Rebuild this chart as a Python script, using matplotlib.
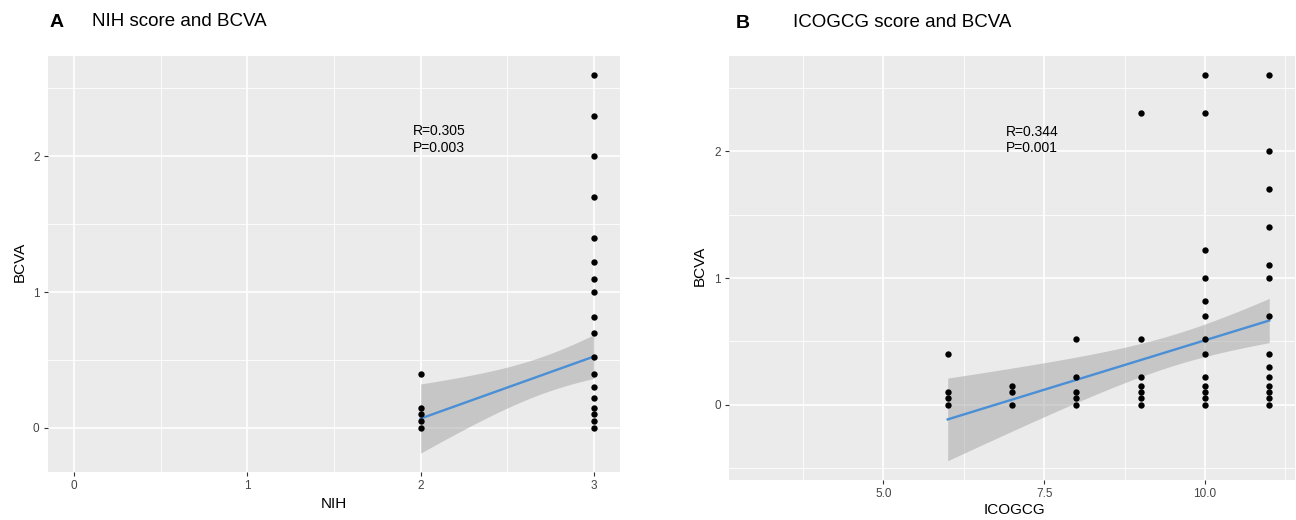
import numpy as np
import matplotlib
matplotlib.use("Agg")
from matplotlib import pyplot as plt

# BCVA (logMAR) readings per score column; *_counts is how many patients share a dot
# (overlapping dots can't be seen, the counts are picked so the fit lands like the figure)
nih_score = [2, 2, 2, 2, 2,
             3, 3, 3, 3, 3, 3, 3, 3, 3, 3, 3, 3, 3, 3, 3, 3, 3, 3]
nih_bcva = [0.4, 0.15, 0.1, 0.05, 0.0,
            2.6, 2.3, 2.0, 1.7, 1.4, 1.22, 1.1, 1.0, 0.82, 0.7, 0.52, 0.4, 0.3, 0.22, 0.15, 0.1, 0.05, 0.0]
nih_counts = [1, 2, 3, 5, 7,
              1, 1, 1, 1, 1, 1, 1, 2, 2, 3, 3, 3, 3, 3, 4, 5, 4, 6]

icogcg_score = [6, 6, 6, 6,
                7, 7, 7,
                8, 8, 8, 8, 8,
                9, 9, 9, 9, 9, 9, 9,
                10, 10, 10, 10, 10, 10, 10, 10, 10, 10, 10, 10, 10,
                11, 11, 11, 11, 11, 11, 11, 11, 11, 11, 11, 11, 11, 11]
icogcg_bcva = [0.4, 0.1, 0.05, 0.0,
               0.15, 0.1, 0.0,
               0.52, 0.22, 0.1, 0.05, 0.0,
               2.3, 0.52, 0.22, 0.15, 0.1, 0.05, 0.0,
               2.6, 2.3, 1.22, 1.0, 0.82, 0.7, 0.52, 0.4, 0.22, 0.15, 0.1, 0.05, 0.0,
               2.6, 2.0, 1.7, 1.4, 1.1, 1.0, 0.7, 0.4, 0.3, 0.22, 0.15, 0.1, 0.05, 0.0]
icogcg_counts = [1, 1, 1, 2,
                 1, 1, 2,
                 1, 2, 2, 2, 4,
                 1, 1, 2, 2, 2, 3, 5,
                 1, 1, 1, 1, 1, 2, 3, 2, 2, 2, 3, 2, 4,
                 1, 1, 2, 2, 2, 3, 3, 2, 2, 2, 2, 2, 2, 3]

nih_stats = "R=0.305\nP=0.003"
icogcg_stats = "R=0.344\nP=0.001"

T_CRIT = 1.99  # ~97.5% t quantile for n around 60-90

plt.rcParams["font.family"] = ["Liberation Sans", "DejaVu Sans"]

BG = "#EBEBEB"
LINE_BLUE = "#4A8FD6"


def lm_band(x, y):
    # plain least squares line + 95% confidence band, like geom_smooth(method="lm")
    x = np.asarray(x, float)
    y = np.asarray(y, float)
    n = len(x)
    slope, icept = np.polyfit(x, y, 1)
    resid = y - (icept + slope * x)
    s = np.sqrt(np.sum(resid ** 2) / (n - 2))
    sxx = np.sum((x - x.mean()) ** 2)
    xs = np.linspace(x.min(), x.max(), 80)
    fit = icept + slope * xs
    se = s * np.sqrt(1.0 / n + (xs - x.mean()) ** 2 / sxx)
    return xs, fit, fit - T_CRIT * se, fit + T_CRIT * se


def gg_panel(ax, score, bcva, counts, xlim, xticks, xminor, ymajor, yminor):
    x = np.repeat(score, counts)
    y = np.repeat(bcva, counts)
    xs, fit, lo, hi = lm_band(x, y)

    ax.set_facecolor(BG)
    for v in xminor:
        ax.axvline(v, color="white", lw=0.6, zorder=0)
    for v in yminor:
        ax.axhline(v, color="white", lw=0.6, zorder=0)
    for v in xticks:
        ax.axvline(v, color="white", lw=1.2, zorder=0)
    for v in ymajor:
        ax.axhline(v, color="white", lw=1.2, zorder=0)

    ax.fill_between(xs, lo, hi, color="#999999", alpha=0.45, lw=0, zorder=1)
    ax.plot(xs, fit, color=LINE_BLUE, lw=1.7, zorder=2)
    ax.scatter(score, bcva, s=21, color="black", lw=0, zorder=3)

    ymin = min(np.min(y), lo.min())
    ymax = max(np.max(y), hi.max())
    pad = 0.05 * (ymax - ymin)
    ax.set_ylim(ymin - pad, ymax + pad)
    xpad = 0.05 * (xlim[1] - xlim[0])
    ax.set_xlim(xlim[0] - xpad, xlim[1] + xpad)

    ax.set_xticks(xticks)
    ax.set_yticks(ymajor)
    for sp in ax.spines.values():
        sp.set_visible(False)
    ax.tick_params(length=3, width=0.8, color="#333333", labelcolor="#444444",
                   labelsize=8.5, pad=3)


fig = plt.figure(figsize=(12.96, 5.2), dpi=100)

ax1 = fig.add_axes([0.037, 0.0923, 0.4414, 0.80])
gg_panel(ax1, nih_score, nih_bcva, nih_counts, (0, 3), [0, 1, 2, 3],
         [0.5, 1.5, 2.5], [0, 1, 2], [0.5, 1.5, 2.5])
ax1.set_xticklabels(["0", "1", "2", "3"])
ax1.text(1.955, 2.235, nih_stats, fontsize=10, va="top", ha="left", linespacing=1.25)
ax1.set_xlabel("NIH", fontsize=11, va="center")
ax1.xaxis.set_label_coords(0.5, -0.077)
ax1.set_ylabel("BCVA", fontsize=11, va="center")
ax1.yaxis.set_label_coords(-0.05, 0.505)

ax2 = fig.add_axes([0.5625, 0.0769, 0.4367, 0.8154])
gg_panel(ax2, icogcg_score, icogcg_bcva, icogcg_counts, (3, 11), [5.0, 7.5, 10.0],
         [3.75, 6.25, 8.75, 11.25], [0, 1, 2], [-0.5, 0.5, 1.5, 2.5])
ax2.set_xticklabels(["5.0", "7.5", "10.0"])
ax2.text(6.9, 2.21, icogcg_stats, fontsize=10, va="top", ha="left", linespacing=1.25)
ax2.set_xlabel("ICOGCG", fontsize=11, va="center")
ax2.xaxis.set_label_coords(0.505, -0.071)
ax2.set_ylabel("BCVA", fontsize=11, va="center")
ax2.yaxis.set_label_coords(-0.051, 0.505)

# panel letters and headings
fig.text(57 / 1296, 1 - 27 / 520, "A", fontsize=14, fontweight="bold", ha="center", va="baseline")
fig.text(92 / 1296, 1 - 25.5 / 520, "NIH score and BCVA", fontsize=13.5, ha="left", va="baseline")
fig.text(743 / 1296, 1 - 28 / 520, "B", fontsize=14, fontweight="bold", ha="center", va="baseline")
fig.text(793 / 1296, 1 - 27 / 520, "ICOGCG score and BCVA", fontsize=13.5, ha="left", va="baseline")

fig.savefig("out.png", dpi=100)
